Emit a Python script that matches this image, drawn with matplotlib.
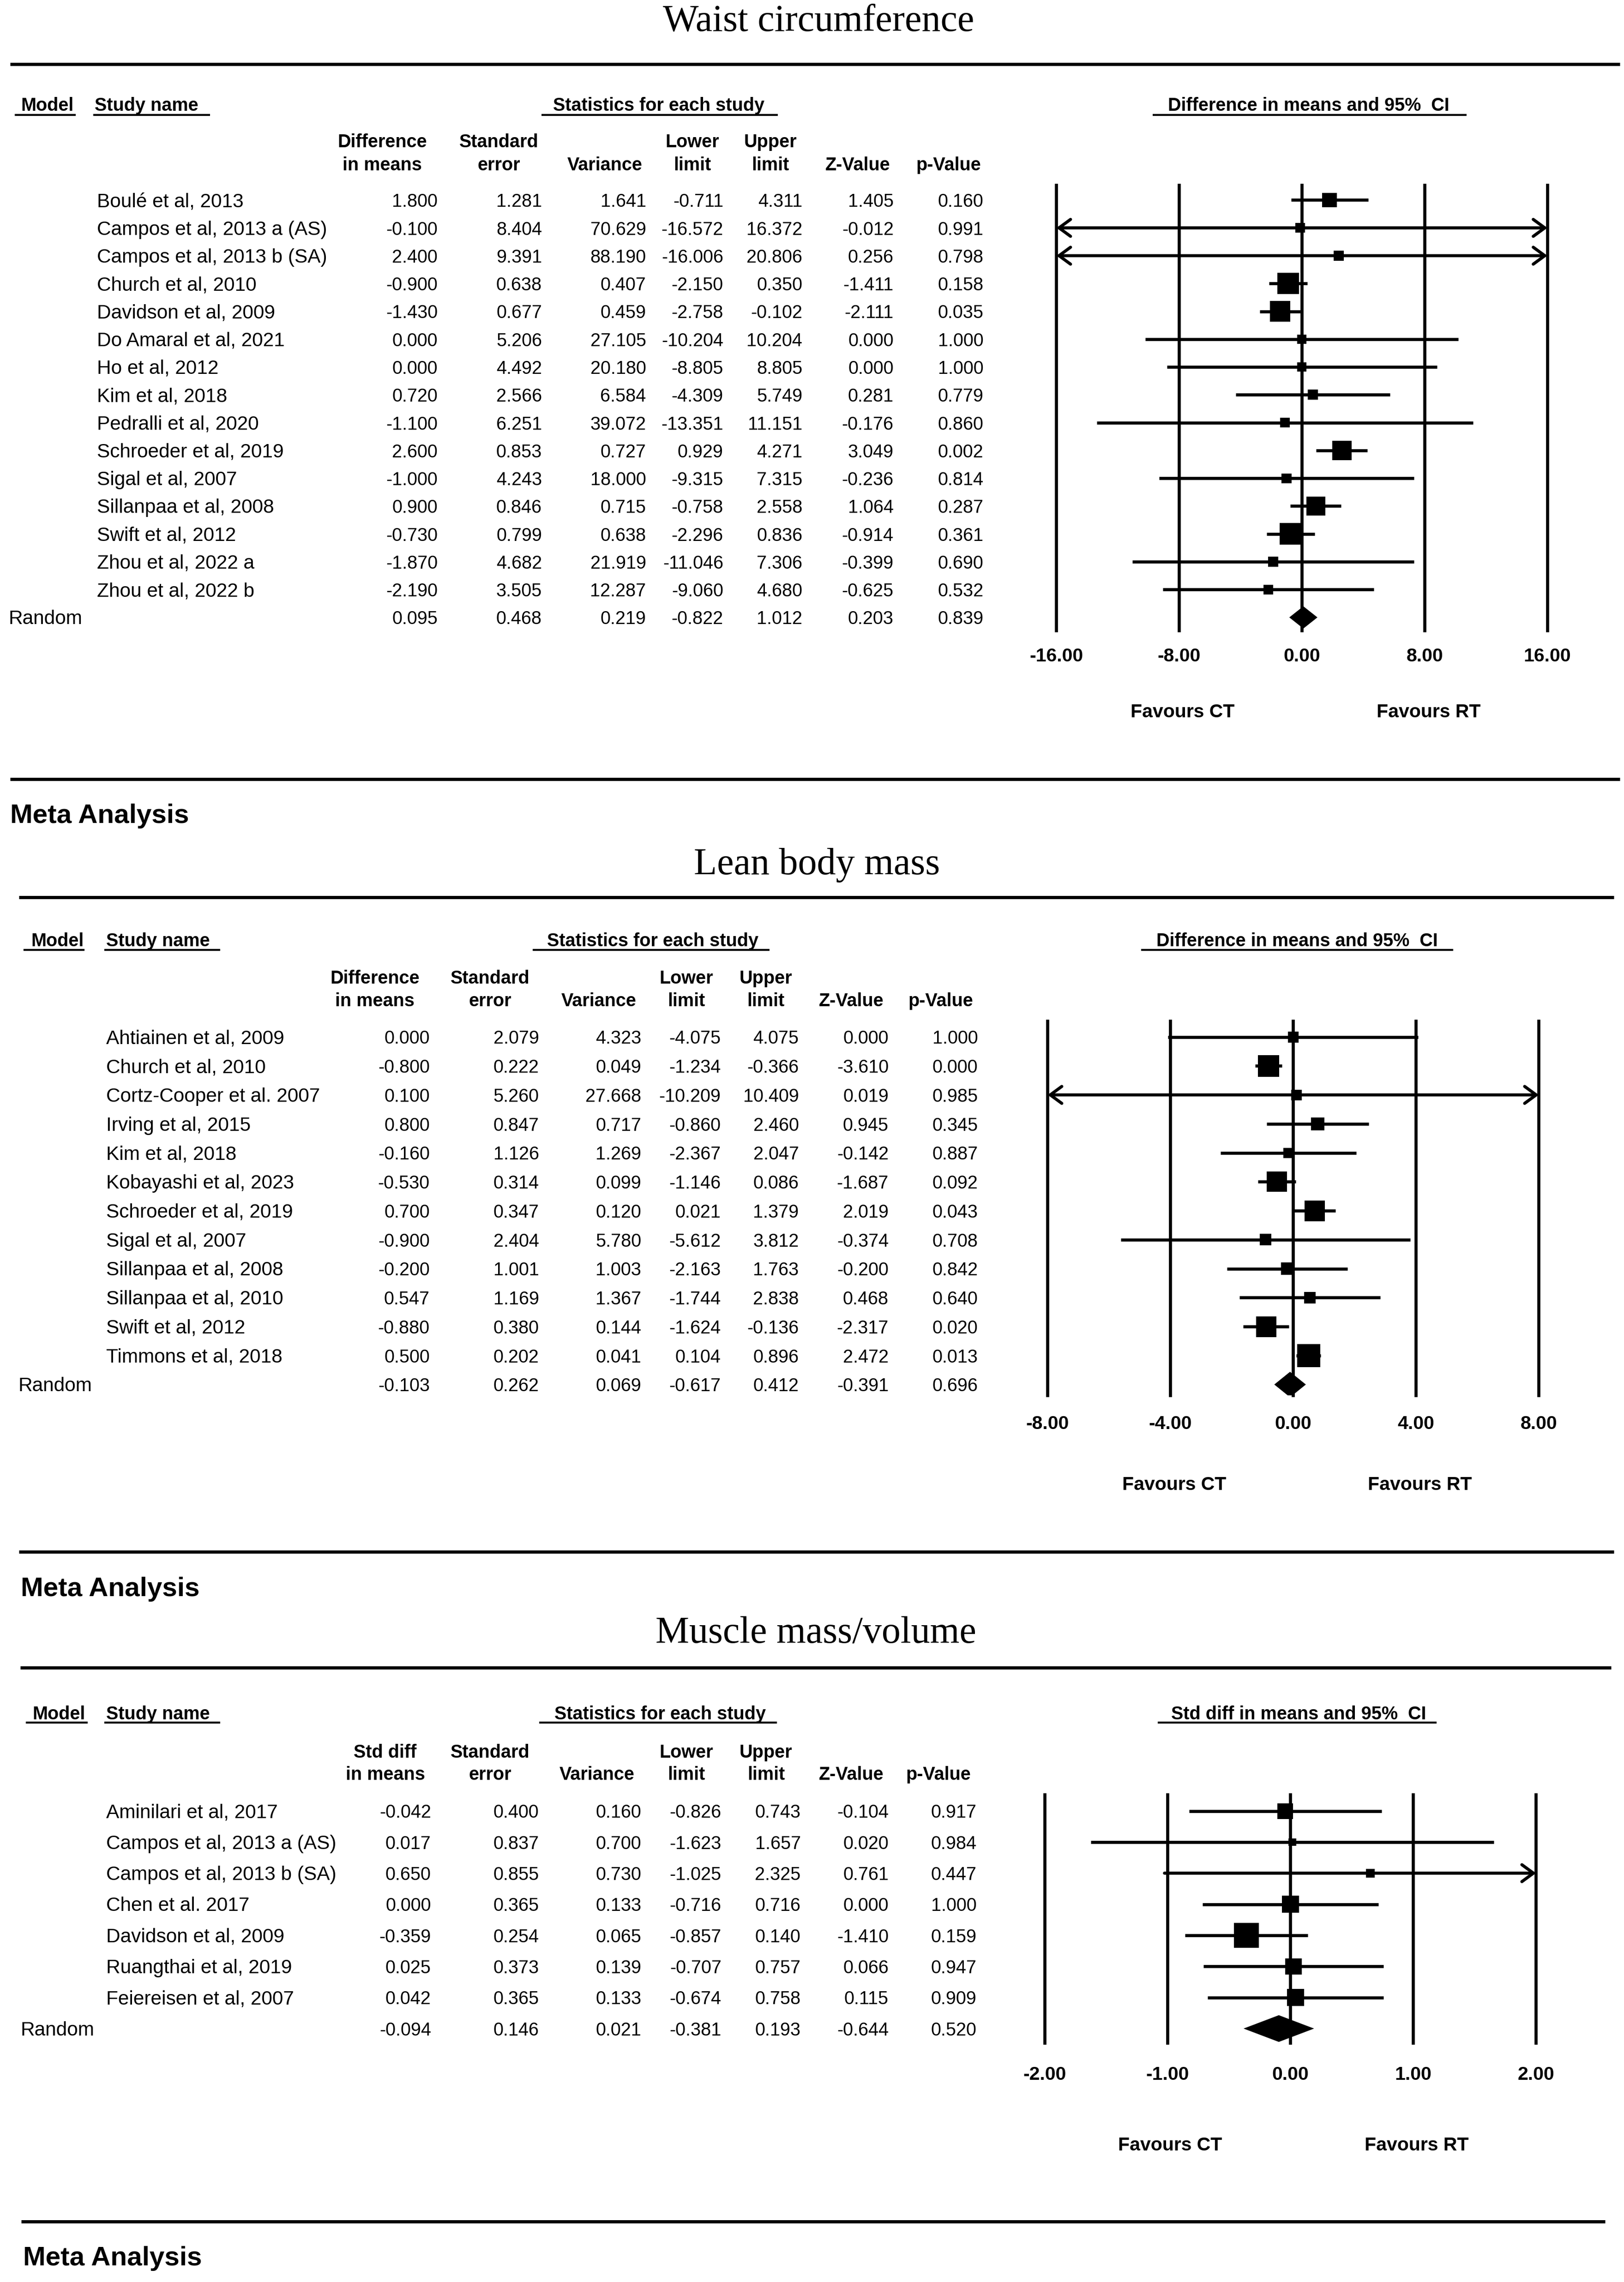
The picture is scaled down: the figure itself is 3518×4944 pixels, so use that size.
import matplotlib
matplotlib.use("Agg")
import matplotlib.pyplot as plt
from matplotlib.lines import Line2D
import numpy as np

# ---------------------------------------------------------------- data
# Panel 1 : Waist circumference
wc_names = ["Boulé et al, 2013", "Campos et al, 2013 a (AS)", "Campos et al, 2013 b (SA)",
            "Church et al, 2010", "Davidson et al, 2009", "Do Amaral et al, 2021",
            "Ho et al, 2012", "Kim et al, 2018", "Pedralli et al, 2020",
            "Schroeder et al, 2019", "Sigal et al, 2007", "Sillanpaa et al, 2008",
            "Swift et al, 2012", "Zhou et al, 2022 a", "Zhou et al, 2022 b"]
wc_est = [1.800, -0.100, 2.400, -0.900, -1.430, 0.000, 0.000, 0.720, -1.100, 2.600,
          -1.000, 0.900, -0.730, -1.870, -2.190]
wc_se = [1.281, 8.404, 9.391, 0.638, 0.677, 5.206, 4.492, 2.566, 6.251, 0.853,
         4.243, 0.846, 0.799, 4.682, 3.505]
wc_var = [1.641, 70.629, 88.190, 0.407, 0.459, 27.105, 20.180, 6.584, 39.072, 0.727,
          18.000, 0.715, 0.638, 21.919, 12.287]
wc_lo = [-0.711, -16.572, -16.006, -2.150, -2.758, -10.204, -8.805, -4.309, -13.351,
         0.929, -9.315, -0.758, -2.296, -11.046, -9.060]
wc_hi = [4.311, 16.372, 20.806, 0.350, -0.102, 10.204, 8.805, 5.749, 11.151, 4.271,
         7.315, 2.558, 0.836, 7.306, 4.680]
wc_z = [1.405, -0.012, 0.256, -1.411, -2.111, 0.000, 0.000, 0.281, -0.176, 3.049,
        -0.236, 1.064, -0.914, -0.399, -0.625]
wc_p = [0.160, 0.991, 0.798, 0.158, 0.035, 1.000, 1.000, 0.779, 0.860, 0.002,
        0.814, 0.287, 0.361, 0.690, 0.532]
wc_weight = [6.7, 3.0, 3.0, 14.5, 13.1, 2.8, 2.8, 3.3, 3.0, 12.0, 3.0, 11.3, 15.1, 3.3, 3.0]
wc_random = [0.095, 0.468, 0.219, -0.822, 1.012, 0.203, 0.839]
wc_ticks = [-16, -8, 0, 8, 16]

# Panel 2 : Lean body mass
lb_names = ["Ahtiainen et al, 2009", "Church et al, 2010", "Cortz-Cooper et al. 2007",
            "Irving et al, 2015", "Kim et al, 2018", "Kobayashi et al, 2023",
            "Schroeder et al, 2019", "Sigal et al, 2007", "Sillanpaa et al, 2008",
            "Sillanpaa et al, 2010", "Swift et al, 2012", "Timmons et al, 2018"]
lb_est = [0.000, -0.800, 0.100, 0.800, -0.160, -0.530, 0.700, -0.900, -0.200, 0.547,
          -0.880, 0.500]
lb_se = [2.079, 0.222, 5.260, 0.847, 1.126, 0.314, 0.347, 2.404, 1.001, 1.169, 0.380, 0.202]
lb_var = [4.323, 0.049, 27.668, 0.717, 1.269, 0.099, 0.120, 5.780, 1.003, 1.367, 0.144, 0.041]
lb_lo = [-4.075, -1.234, -10.209, -0.860, -2.367, -1.146, 0.021, -5.612, -2.163, -1.744,
         -1.624, 0.104]
lb_hi = [4.075, -0.366, 10.409, 2.460, 2.047, 0.086, 1.379, 3.812, 1.763, 2.838,
         -0.136, 0.896]
lb_z = [0.000, -3.610, 0.019, 0.945, -0.142, -1.687, 2.019, -0.374, -0.200, 0.468,
        -2.317, 2.472]
lb_p = [1.000, 0.000, 0.985, 0.345, 0.887, 0.092, 0.043, 0.708, 0.842, 0.640, 0.020, 0.013]
lb_weight = [3.8, 14.4, 3.5, 5.5, 3.3, 12.9, 13.5, 4.1, 4.9, 4.1, 13.5, 16.7]
lb_random = [-0.103, 0.262, 0.069, -0.617, 0.412, -0.391, 0.696]
lb_ticks = [-8, -4, 0, 4, 8]

# Panel 3 : Muscle mass/volume
mm_names = ["Aminilari et al, 2017", "Campos et al, 2013 a (AS)", "Campos et al, 2013 b (SA)",
            "Chen et al. 2017", "Davidson et al, 2009", "Ruangthai et al, 2019",
            "Feiereisen et al, 2007"]
mm_est = [-0.042, 0.017, 0.650, 0.000, -0.359, 0.025, 0.042]
mm_se = [0.400, 0.837, 0.855, 0.365, 0.254, 0.373, 0.365]
mm_var = [0.160, 0.700, 0.730, 0.133, 0.065, 0.139, 0.133]
mm_lo = [-0.826, -1.623, -1.025, -0.716, -0.857, -0.707, -0.674]
mm_hi = [0.743, 1.657, 2.325, 0.716, 0.140, 0.757, 0.758]
mm_z = [-0.104, 0.020, 0.761, 0.000, -1.410, 0.066, 0.115]
mm_p = [0.917, 0.984, 0.447, 1.000, 0.159, 0.947, 0.909]
mm_weight = [13.2, 3.2, 4.0, 16.1, 33.7, 14.5, 15.3]
mm_random = [-0.094, 0.146, 0.021, -0.381, 0.193, -0.644, 0.520]
mm_ticks = [-2, -1, 0, 1, 2]

# ---------------------------------------------------------------- style / layout
SANS = "Liberation Sans"
SERIF = "Liberation Serif"
W, H = 1113.0, 1564.0          # layout units (scaled page)
PT_PER_UNIT = (3518.0 / W) * 72.0 / 100.0
LW = 4.8

fig = plt.figure(figsize=(35.18, 49.44), dpi=100)
fig.patch.set_facecolor("white")


def hline(x0, x1, y, lw):
    fig.add_artist(Line2D([x0 / W, x1 / W], [1 - y / H, 1 - y / H],
                          transform=fig.transFigure, color="k", lw=lw,
                          solid_capstyle="butt"))


def txt(x, y, s, size, ha="left", weight="normal", family=SANS):
    fig.text(x / W, 1 - y / H, s, ha=ha, va="baseline", fontsize=size,
             fontweight=weight, family=family, color="k")


# titles / separators
txt(561, 21, "Waist circumference", 59, ha="center", family=SERIF)
hline(7, 1110, 44, 5)
hline(7, 1110, 534, 5)
txt(7, 564, "Meta Analysis", 42, weight="bold")
txt(560, 599, "Lean body mass", 59, ha="center", family=SERIF)
hline(13, 1106, 615, 5)
hline(13, 1106, 1063.6, 5)
txt(14.3, 1094, "Meta Analysis", 42, weight="bold")
txt(559.3, 1126, "Muscle mass/volume", 59, ha="center", family=SERIF)
hline(14, 1104, 1143, 5)
hline(14.6, 1100, 1522.5, 5)
txt(15.8, 1552.7, "Meta Analysis", 42, weight="bold")

panels = [
    dict(names=wc_names, cols=[wc_est, wc_se, wc_var, wc_lo, wc_hi, wc_z, wc_p],
         weight=wc_weight, random=wc_random, ticks=wc_ticks,
         hdr1=["Difference", "Standard", "", "Lower", "Upper", "", ""],
         ci_title="Difference in means and 95%  CI",
         model_x=14.4, model_ul=(10, 52), study_x=65, study_ul=(64, 144),
         stats_cx=451.5, stats_ul=(371, 533), ci_cx=897, ci_ul=(790, 1005),
         hdr_base=76, ul_y=78.9, col_base=(101, 116.8),
         col_cx=[262, 342, 414.5, 474.5, 528, 588, 650],
         num_right=[300, 371.4, 442.8, 495.7, 549.9, 612.4, 674],
         name_x=66.5, random_x=6, row0=137.1, step=19.07,
         ax_x=(724, 1060.5), ax_y=(127, 432), pad=27,
         fav_y=487, fav_ct=810.5, fav_rt=979, dia_h=0.8, box_k=3.86),
    dict(names=lb_names, cols=[lb_est, lb_se, lb_var, lb_lo, lb_hi, lb_z, lb_p],
         weight=lb_weight, random=lb_random, ticks=lb_ticks,
         hdr1=["Difference", "Standard", "", "Lower", "Upper", "", ""],
         ci_title="Difference in means and 95%  CI",
         model_x=21.4, model_ul=(16, 58), study_x=72.7, study_ul=(71.4, 150.8),
         stats_cx=447.3, stats_ul=(365, 527.4), ci_cx=889, ci_ul=(782, 996),
         hdr_base=648.4, ul_y=650.9, col_base=(674.2, 689.5),
         col_cx=[257, 336, 410.5, 470.5, 524.7, 583.4, 644.8],
         num_right=[294.5, 369.4, 439.5, 494, 547.5, 609, 670.2],
         name_x=72.7, random_x=12.5, row0=710.7, step=19.85,
         ax_x=(718, 1054.6), ax_y=(699.7, 956.4), pad=31,
         fav_y=1016.5, fav_ct=804.6, fav_rt=973, dia_h=0.88, box_k=3.86),
    dict(names=mm_names, cols=[mm_est, mm_se, mm_var, mm_lo, mm_hi, mm_z, mm_p],
         weight=mm_weight, random=mm_random, ticks=mm_ticks,
         hdr1=["Std diff", "Standard", "", "Lower", "Upper", "", ""],
         ci_title="Std diff in means and 95%  CI",
         model_x=22.3, model_ul=(17.8, 60.2), study_x=72.7, study_ul=(71.4, 150.8),
         stats_cx=452.4, stats_ul=(369.5, 532.3), ci_cx=890, ci_ul=(793.4, 984.6),
         hdr_base=1178.3, ul_y=1180.5, col_base=(1204.6, 1219.9),
         col_cx=[264, 336, 409, 470.3, 525, 583.4, 643],
         num_right=[295.4, 369.4, 439.5, 494.4, 548.8, 609, 669.3],
         name_x=72.7, random_x=14, row0=1241.2, step=21.3,
         ax_x=(716, 1052.7), ax_y=(1230, 1400), pad=36,
         fav_y=1469, fav_ct=802, fav_rt=971, dia_h=0.86, box_k=2.946),
]

hdr2 = ["in means", "error", "Variance", "limit", "limit", "Z-Value", "p-Value"]
HDR_FS = 28.5
NAME_FS = 30.5
NUM_FS = 28.5
TXT_OFF = 4.7

for P in panels:
    # ---- header
    txt(P["model_x"], P["hdr_base"], "Model", HDR_FS, weight="bold")
    txt(P["study_x"], P["hdr_base"], "Study name", HDR_FS, weight="bold")
    txt(P["stats_cx"], P["hdr_base"], "Statistics for each study", HDR_FS,
        ha="center", weight="bold")
    txt(P["ci_cx"], P["hdr_base"], P["ci_title"], HDR_FS, ha="center", weight="bold")
    for (a, b) in (P["model_ul"], P["study_ul"], P["stats_ul"], P["ci_ul"]):
        hline(a, b, P["ul_y"], 3.1)
    for j in range(7):
        if P["hdr1"][j]:
            txt(P["col_cx"][j], P["col_base"][0], P["hdr1"][j], HDR_FS, ha="center",
                weight="bold")
        txt(P["col_cx"][j], P["col_base"][1], hdr2[j], HDR_FS, ha="center",
            weight="bold")

    # ---- table rows
    n = len(P["names"])
    for i in range(n):
        yb = P["row0"] + P["step"] * i + TXT_OFF
        txt(P["name_x"], yb, P["names"][i], NAME_FS)
        for j in range(7):
            txt(P["num_right"][j], yb, f"{P['cols'][j][i]:.3f}", NUM_FS, ha="right")
    yb = P["row0"] + P["step"] * n + TXT_OFF
    txt(P["random_x"], yb, "Random", NAME_FS)
    for j in range(7):
        txt(P["num_right"][j], yb, f"{P['random'][j]:.3f}", NUM_FS, ha="right")

    # ---- forest plot axes
    x0, x1 = P["ax_x"]
    y0, y1 = P["ax_y"]
    ax = fig.add_axes([x0 / W, 1 - y1 / H, (x1 - x0) / W, (y1 - y0) / H])
    ax.patch.set_visible(False)
    for s in ax.spines.values():
        s.set_visible(False)
    ticks = P["ticks"]
    xmin, xmax = ticks[0], ticks[-1]
    ax.set_xlim(xmin, xmax)
    ax.set_ylim((y1 - P["row0"]) / P["step"], (y0 - P["row0"]) / P["step"])
    ax.set_yticks([])
    ax.set_xticks(ticks)
    ax.set_xticklabels([f"{t:.2f}" for t in ticks], fontsize=29.5, fontweight="bold",
                       family=SANS)
    ax.tick_params(axis="x", length=0, pad=P["pad"])
    for t in ticks:
        ax.axvline(t, color="k", lw=LW, clip_on=False, zorder=1)

    est = np.array(P["cols"][0])
    lo = np.array(P["cols"][3])
    hi = np.array(P["cols"][4])
    rows = np.arange(n)
    for i in range(n):
        la = lo[i] < xmin
        ra = hi[i] > xmax
        lc = max(lo[i], xmin)
        hc = min(hi[i], xmax)
        if la or ra:
            style = "<->" if (la and ra) else ("->" if ra else "<-")
            ax.annotate("", xy=(hc, rows[i]), xytext=(lc, rows[i]),
                        arrowprops=dict(arrowstyle=style + ",head_length=0.45,head_width=0.33",
                                        lw=LW, color="k", shrinkA=0, shrinkB=0,
                                        mutation_scale=40), zorder=2)
        else:
            ax.hlines(rows[i], lc, hc, colors="k", lw=LW, zorder=2)
    side_pt = P["box_k"] * np.sqrt(np.array(P["weight"])) * PT_PER_UNIT
    ax.scatter(est, rows, s=side_pt ** 2, marker="s", c="k", linewidths=0, zorder=3)

    r_est, r_lo, r_hi = P["random"][0], P["random"][3], P["random"][4]
    h = P["dia_h"] / 2
    ax.fill([r_lo, r_est, r_hi, r_est], [n, n - h, n, n + h], color="k", lw=0, zorder=3)

    txt(P["fav_ct"], P["fav_y"] + TXT_OFF, "Favours CT", 29.5, ha="center", weight="bold")
    txt(P["fav_rt"], P["fav_y"] + TXT_OFF, "Favours RT", 29.5, ha="center", weight="bold")

fig.savefig("out.png", dpi=100, facecolor="white")
